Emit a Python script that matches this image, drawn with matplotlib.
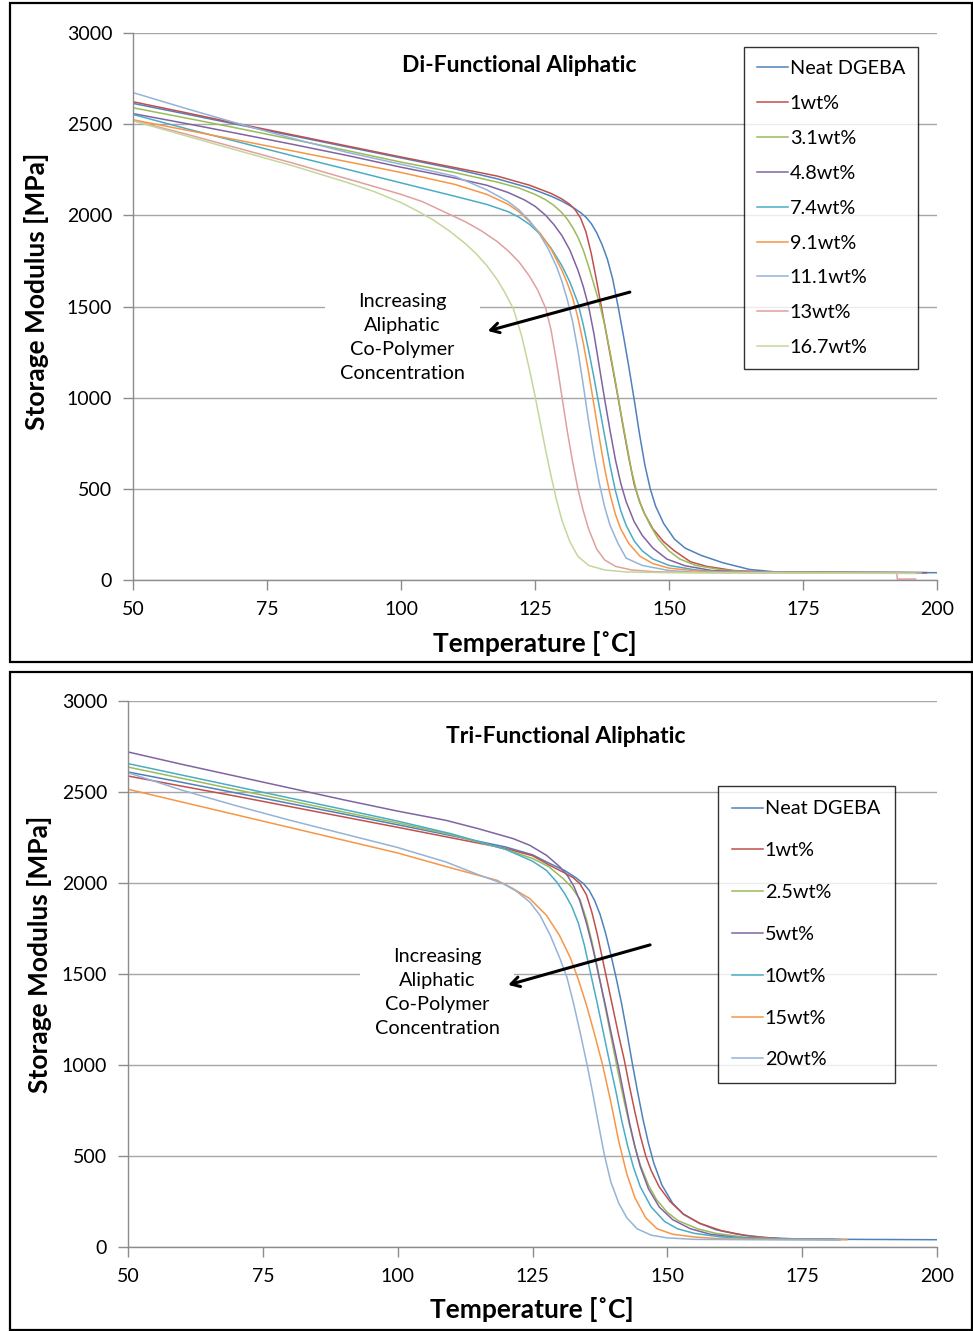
import matplotlib
matplotlib.use("Agg")
import matplotlib.pyplot as plt
from matplotlib.patches import Rectangle

FONT = ['Lato', 'DejaVu Sans']
plt.rcParams['font.family'] = FONT

# ---------------- Di-functional data (temperature °C, storage modulus MPa) ----------------
di_labels = ['Neat DGEBA', '1wt%', '3.1wt%', '4.8wt%', '7.4wt%', '9.1wt%', '11.1wt%', '13wt%', '16.7wt%']
di_colors = ['#4F81BD', '#C0504D', '#9BBB59', '#8064A2', '#4BACC6', '#F79646', '#95B3D7', '#E0A09E', '#C4D79B']

di_neat_T = [50, 60, 70, 80, 90, 100, 110, 118, 124, 128, 130, 132, 133.5, 134.5, 135.5, 136.5, 137.5, 138.5, 139.5, 140.5, 141.5, 142.5, 143.5, 144.5, 145.5, 146.5, 147.5, 149, 151, 153, 156, 160, 165, 170, 200]
di_neat_E = [2614, 2555, 2495, 2435, 2375, 2315, 2255, 2200, 2150, 2105, 2078, 2045, 2015, 1990, 1955, 1905, 1840, 1760, 1650, 1500, 1340, 1170, 990, 800, 630, 500, 405, 310, 225, 175, 135, 95, 58, 44, 40]

di_1_T = [50, 60, 70, 80, 90, 100, 110, 118, 124, 128, 130, 131.5, 132.5, 133.5, 134.5, 135.5, 136.5, 137.5, 138.5, 139.5, 140.5, 141.5, 142.5, 143.5, 144.5, 145.5, 147, 149, 151, 154, 157, 162, 170, 198]
di_1_E = [2623, 2562, 2500, 2440, 2380, 2320, 2262, 2215, 2165, 2120, 2090, 2060, 2030, 1985, 1910, 1790, 1640, 1480, 1320, 1160, 1000, 830, 670, 525, 430, 360, 280, 210, 160, 100, 75, 52, 42, 40]

di_3_T = [50, 60, 70, 80, 90, 100, 110, 118, 122, 125, 127, 128.5, 130, 131, 132, 133, 134, 135, 136, 137, 138, 139, 140, 141, 142, 143, 144, 145, 146.5, 148, 150, 152, 155, 160, 165, 170, 198]
di_3_E = [2590, 2533, 2475, 2415, 2355, 2292, 2235, 2182, 2150, 2115, 2085, 2055, 2015, 1980, 1935, 1880, 1810, 1720, 1620, 1520, 1400, 1250, 1090, 920, 760, 600, 480, 390, 300, 225, 160, 115, 80, 55, 45, 42, 40]

di_4_T = [50, 60, 70, 80, 90, 100, 110, 116, 120, 123, 125, 127, 128.5, 130, 131.5, 133, 134, 135, 136, 137, 138, 139, 140, 141, 142, 143.5, 145, 147, 149.6, 153, 158, 165, 198]
di_4_E = [2558, 2503, 2446, 2388, 2328, 2264, 2205, 2165, 2125, 2085, 2050, 2000, 1950, 1890, 1810, 1700, 1610, 1500, 1350, 1170, 990, 820, 660, 530, 430, 320, 245, 175, 115, 78, 52, 43, 40]

di_7_T = [50, 60, 70, 80, 90, 100, 110, 116, 120, 122, 124, 126, 128, 130, 131.5, 133, 134, 135, 136, 137, 138, 139, 140, 141, 142, 143.5, 145, 147, 150, 155, 160, 197]
di_7_E = [2553, 2475, 2400, 2325, 2252, 2178, 2105, 2060, 2020, 1990, 1950, 1895, 1820, 1725, 1635, 1520, 1400, 1260, 1110, 950, 790, 630, 490, 380, 300, 215, 160, 115, 80, 55, 45, 40]

di_9_T = [50, 60, 70, 80, 90, 100, 110, 116, 120, 122, 124, 126, 128, 130, 131, 132, 133, 134, 135, 136, 137, 138, 139, 140, 141, 142.5, 144.6, 147, 150, 155, 160, 197]
di_9_E = [2524, 2467, 2410, 2352, 2294, 2235, 2170, 2115, 2060, 2020, 1965, 1900, 1815, 1700, 1630, 1550, 1440, 1300, 1140, 960, 780, 610, 470, 360, 280, 200, 130, 90, 65, 50, 43, 40]

di_11_T = [50, 60, 70, 80, 90, 100, 110, 116, 120, 122, 124, 126, 127.5, 129, 130, 131, 132, 133, 134, 135, 136, 137, 138, 139, 140.5, 142, 145, 150, 155, 197]
di_11_E = [2673, 2585, 2500, 2420, 2345, 2280, 2215, 2140, 2075, 2030, 1970, 1890, 1815, 1720, 1640, 1540, 1420, 1260, 1070, 870, 690, 530, 400, 300, 200, 120, 80, 52, 42, 38]

di_13_T = [50, 60, 70, 80, 90, 95, 100, 104, 108, 112, 115, 118, 120, 122, 124, 125.5, 127, 128, 129, 130, 131, 132, 133, 134, 135, 136.5, 138, 140, 143, 147, 152, 160, 192.5, 192.6, 196]
di_13_E = [2520, 2445, 2365, 2285, 2200, 2158, 2115, 2075, 2020, 1965, 1915, 1855, 1805, 1745, 1665, 1590, 1490, 1370, 1200, 1010, 820, 650, 500, 380, 280, 170, 110, 75, 55, 46, 42, 40, 38, 5, 5]

di_16_T = [50, 60, 70, 80, 90, 95, 100, 103, 106, 109, 112, 114, 116, 118, 119.5, 121, 122.5, 124, 125, 126, 127, 128, 129, 130, 131.5, 133, 135, 138, 142, 150, 196]
di_16_E = [2518, 2435, 2352, 2270, 2180, 2130, 2070, 2025, 1975, 1915, 1845, 1790, 1725, 1645, 1570, 1485, 1340, 1150, 1010, 860, 710, 570, 440, 330, 210, 130, 80, 55, 44, 40, 36]

# ---------------- Tri-functional data ----------------
tri_labels = ['Neat DGEBA', '1wt%', '2.5wt%', '5wt%', '10wt%', '15wt%', '20wt%']
tri_colors = ['#4F81BD', '#C0504D', '#9BBB59', '#8064A2', '#4BACC6', '#F79646', '#95B3D7']

tri_neat_T = [50, 60, 70, 80, 90, 100, 110, 120, 125, 128, 131, 133, 134.5, 135.5, 136.5, 137.5, 138.5, 139.5, 140.5, 141.5, 142.5, 143.5, 144.5, 145.5, 146.5, 147.5, 149, 151, 153, 156, 159, 163, 168, 175, 200]
tri_neat_E = [2610, 2553, 2495, 2437, 2379, 2320, 2260, 2198, 2155, 2110, 2068, 2030, 1995, 1960, 1905, 1830, 1730, 1610, 1480, 1340, 1180, 1010, 850, 700, 570, 460, 340, 240, 180, 130, 95, 70, 52, 43, 40]

tri_1_T = [50, 60, 70, 80, 90, 100, 110, 120, 125, 128, 131, 132.5, 133.8, 135, 136, 137, 138, 139, 140, 141, 142, 143, 144, 145, 146, 147, 148.5, 150.5, 153, 156, 160, 165, 171]
tri_1_E = [2588, 2532, 2477, 2420, 2363, 2306, 2248, 2190, 2150, 2100, 2055, 2030, 1996, 1935, 1840, 1720, 1580, 1440, 1300, 1160, 1030, 880, 740, 610, 500, 420, 330, 250, 180, 130, 90, 60, 45]

tri_2_T = [50, 60, 70, 80, 90, 100, 110, 120, 125, 128, 130.7, 132.3, 133.8, 135, 136, 137, 138, 139, 140, 141, 142, 143, 144, 145, 146.5, 148, 150, 152, 155.6, 159, 164, 170, 181]
tri_2_E = [2637, 2575, 2513, 2452, 2390, 2330, 2265, 2185, 2135, 2090, 2024, 1975, 1910, 1800, 1680, 1540, 1390, 1240, 1090, 940, 800, 670, 550, 450, 340, 260, 190, 145, 100, 75, 55, 45, 42]

tri_5_T = [50, 60, 70, 80, 90, 100, 109, 115, 121.4, 124.5, 127.6, 130.1, 131.5, 132.7, 133.8, 135, 136.2, 137.3, 138.5, 139.7, 141, 142, 143, 144, 145, 146.5, 148.5, 151, 154.3, 158, 163, 170, 181]
tri_5_E = [2720, 2652, 2587, 2522, 2457, 2395, 2344, 2298, 2244, 2207, 2152, 2088, 2040, 1980, 1900, 1780, 1640, 1490, 1330, 1160, 980, 830, 680, 550, 440, 320, 220, 150, 100, 70, 52, 44, 42]

tri_10_T = [50, 60, 70, 80, 90, 100, 110, 120, 125, 127.6, 129.5, 131, 132.3, 133.5, 134.6, 135.8, 137, 138.2, 139.4, 140.5, 141.5, 142.6, 143.7, 145, 147, 149.5, 151.9, 155, 160, 168, 182]
tri_10_E = [2656, 2593, 2530, 2467, 2404, 2340, 2270, 2185, 2120, 2069, 2005, 1940, 1870, 1780, 1660, 1500, 1340, 1170, 1000, 850, 700, 560, 440, 330, 220, 140, 100, 75, 55, 45, 42]

tri_15_T = [50, 60, 70, 80, 90, 100, 109, 115, 118.4, 121.4, 124.5, 127.6, 130, 132, 133.5, 135, 136.5, 138, 139.5, 141, 142.5, 144, 146, 148.1, 151, 155, 160, 170, 183.3]
tri_15_E = [2515, 2445, 2375, 2305, 2235, 2165, 2090, 2042, 2015, 1969, 1914, 1822, 1712, 1590, 1470, 1330, 1170, 1000, 800, 580, 400, 270, 160, 100, 70, 55, 45, 42, 40]

tri_20_T = [50, 60, 70, 80, 90, 100, 109, 115, 119.6, 122, 124.5, 126.4, 128.3, 130.1, 131.4, 132.6, 133.9, 135.2, 136.2, 137.2, 138.3, 139.5, 141, 142.5, 144.4, 147, 150, 155, 165, 182]
tri_20_E = [2606, 2510, 2425, 2345, 2270, 2195, 2115, 2045, 1996, 1955, 1895, 1822, 1712, 1584, 1480, 1340, 1170, 990, 840, 680, 510, 360, 240, 160, 100, 65, 50, 42, 40, 38]

di_series = [(di_neat_T, di_neat_E), (di_1_T, di_1_E), (di_3_T, di_3_E), (di_4_T, di_4_E),
             (di_7_T, di_7_E), (di_9_T, di_9_E), (di_11_T, di_11_E), (di_13_T, di_13_E),
             (di_16_T, di_16_E)]
tri_series = [(tri_neat_T, tri_neat_E), (tri_1_T, tri_1_E), (tri_2_T, tri_2_E), (tri_5_T, tri_5_E),
              (tri_10_T, tri_10_E), (tri_15_T, tri_15_E), (tri_20_T, tri_20_E)]

x_ticks = [50, 75, 100, 125, 150, 175, 200]
y_ticks = [0, 500, 1000, 1500, 2000, 2500, 3000]

W, H = 973, 1331
fig = plt.figure(figsize=(W / 100, H / 100), dpi=100)


def fx(px):
    return px / W


def fy(py):
    return 1 - py / H


# outer panel frames
for (x0, y0, x1, y1) in [(10, 3, 972, 662), (10, 672, 972, 1330)]:
    fig.add_artist(Rectangle((fx(x0), fy(y1)), fx(x1) - fx(x0), fy(y0) - fy(y1),
                             transform=fig.transFigure, fill=False, ec='black', lw=1.6))

GRID = '#a6a6a6'
SPINE = '#8c8c8c'


def make_axes(rect, series, labels, colors, title, title_xy, legend_xy, label_spacing,
              border_pad, note_xy, arrow_from, arrow_to):
    ax = fig.add_axes(rect)
    for (t, e), lab, c in zip(series, labels, colors):
        ax.plot(t, e, color=c, lw=1.1, label=lab)
    ax.set_xlim(50, 200)
    ax.set_ylim(0, 3000)
    ax.set_xticks(x_ticks)
    ax.set_yticks(y_ticks)
    ax.yaxis.grid(True, color=GRID, lw=1.0)
    ax.set_axisbelow(True)
    for s in ['top', 'right']:
        ax.spines[s].set_visible(False)
    for s in ['left', 'bottom']:
        ax.spines[s].set_color(SPINE)
        ax.spines[s].set_linewidth(1.0)
    ax.tick_params(axis='both', direction='out', length=7, width=1.0, color=SPINE,
                   labelsize=14, pad=8)
    ax.text(title_xy[0], title_xy[1], title, transform=ax.transAxes, ha='center', va='center',
            fontsize=16.5, fontweight='bold')
    leg = ax.legend(loc='upper left', bbox_to_anchor=legend_xy, frameon=True, fancybox=False,
                    edgecolor='black', fontsize=14.3, handlelength=1.55, handletextpad=0.1,
                    labelspacing=label_spacing, borderpad=border_pad, borderaxespad=0)
    leg.get_frame().set_linewidth(1.0)
    ax.text(note_xy[0], note_xy[1], 'Increasing\nAliphatic\nCo-Polymer\nConcentration',
            ha='center', va='center', fontsize=14.3, linespacing=1.5,
            bbox=dict(boxstyle='square,pad=0.75', fc='white', ec='none'))
    ax.annotate('', xy=arrow_to, xytext=arrow_from,
                arrowprops=dict(arrowstyle='->,head_length=0.6,head_width=0.35', color='black',
                                lw=2.2, shrinkA=0, shrinkB=0))
    return ax


ax1 = make_axes([fx(133), fy(580), fx(937) - fx(133), fy(33) - fy(580)], di_series, di_labels,
                di_colors, 'Di-Functional Aliphatic', (0.48, 0.94), (0.76, 0.974), 0.9, 0.65,
                (100.3, 1330), (142.7, 1579), (116.2, 1366))
ax2 = make_axes([fx(128), fy(1247), fx(937) - fx(128), fy(701) - fy(1247)], tri_series, tri_labels,
                tri_colors, 'Tri-Functional Aliphatic', (0.541, 0.935), (0.729, 0.844), 1.25, 0.72,
                (107.3, 1398), (146.8, 1660), (120.5, 1440))

# axis labels
for (xc, yc) in [(37, 291), (40, 954)]:
    fig.text(fx(xc), fy(yc), 'Storage Modulus [MPa]', rotation=90, ha='center', va='center',
             fontsize=19, fontweight='bold')
for (xc, yc) in [(535, 643), (532, 1309)]:
    fig.text(fx(xc), fy(yc), 'Temperature [˚C]', ha='center', va='center',
             fontsize=19, fontweight='bold')

fig.savefig('out.png', dpi=100)
